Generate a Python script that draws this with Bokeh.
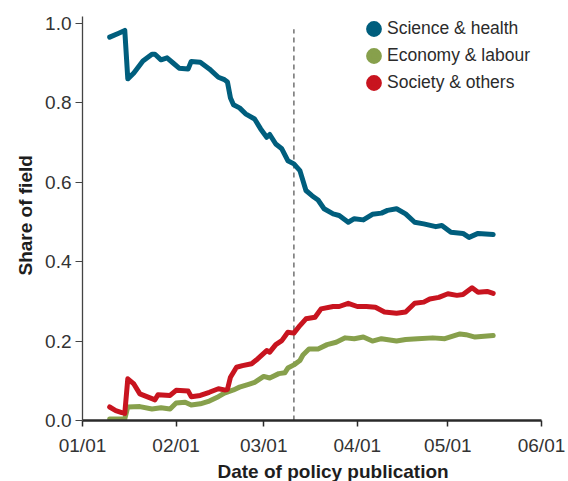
from bokeh.plotting import figure
from bokeh.models import (ColumnDataSource, Range1d, FixedTicker, DatetimeTickFormatter,
                          PrintfTickFormatter, Legend, LegendItem, Title)
from bokeh.embed import file_html
from bokeh.resources import INLINE
import pandas as pd

# ---------------- data ----------------
science_dates = ["2020-01-10", "2020-01-13", "2020-01-15", "2020-01-16", "2020-01-18", "2020-01-21",
                 "2020-01-24", "2020-01-25", "2020-01-27", "2020-01-29", "2020-01-31", "2020-02-02",
                 "2020-02-05", "2020-02-06", "2020-02-09", "2020-02-12", "2020-02-15", "2020-02-17",
                 "2020-02-18", "2020-02-19", "2020-02-20", "2020-02-22", "2020-02-24", "2020-02-27",
                 "2020-02-29", "2020-03-02", "2020-03-03", "2020-03-05", "2020-03-07", "2020-03-09",
                 "2020-03-11", "2020-03-13", "2020-03-15", "2020-03-17", "2020-03-19", "2020-03-21",
                 "2020-03-24", "2020-03-26", "2020-03-29", "2020-03-31", "2020-04-03", "2020-04-06",
                 "2020-04-09", "2020-04-11", "2020-04-14", "2020-04-17", "2020-04-20", "2020-04-23",
                 "2020-04-27", "2020-04-29", "2020-05-02", "2020-05-06", "2020-05-08", "2020-05-11",
                 "2020-05-16"]
science_share = [0.965, 0.975, 0.982, 0.860, 0.875, 0.905,
                 0.922, 0.922, 0.908, 0.913, 0.900, 0.887,
                 0.885, 0.904, 0.902, 0.885, 0.864, 0.858,
                 0.852, 0.812, 0.795, 0.787, 0.772, 0.759,
                 0.734, 0.713, 0.720, 0.696, 0.684, 0.654,
                 0.646, 0.629, 0.579, 0.566, 0.555, 0.533,
                 0.520, 0.516, 0.499, 0.508, 0.505, 0.519,
                 0.522, 0.529, 0.533, 0.520, 0.499, 0.495,
                 0.488, 0.491, 0.474, 0.471, 0.461, 0.471,
                 0.468]

economy_dates = ["2020-01-10", "2020-01-15", "2020-01-16", "2020-01-20", "2020-01-24", "2020-01-27",
                 "2020-01-30", "2020-02-01", "2020-02-04", "2020-02-06", "2020-02-09", "2020-02-12",
                 "2020-02-15", "2020-02-17", "2020-02-20", "2020-02-22", "2020-02-25", "2020-02-27",
                 "2020-03-01", "2020-03-03", "2020-03-06", "2020-03-08", "2020-03-09", "2020-03-11",
                 "2020-03-13", "2020-03-14", "2020-03-16", "2020-03-19", "2020-03-22", "2020-03-25",
                 "2020-03-28", "2020-03-31", "2020-04-03", "2020-04-06", "2020-04-09", "2020-04-14",
                 "2020-04-17", "2020-04-21", "2020-04-26", "2020-04-30", "2020-05-05", "2020-05-07",
                 "2020-05-10", "2020-05-16"]
economy_share = [0.004, 0.004, 0.034, 0.035, 0.029, 0.032,
                 0.029, 0.044, 0.046, 0.039, 0.042, 0.049,
                 0.060, 0.069, 0.077, 0.084, 0.091, 0.096,
                 0.111, 0.107, 0.118, 0.120, 0.132, 0.140,
                 0.151, 0.165, 0.180, 0.180, 0.191, 0.197,
                 0.208, 0.206, 0.210, 0.200, 0.206, 0.200,
                 0.204, 0.206, 0.208, 0.206, 0.218, 0.216,
                 0.210, 0.214]

society_dates = ["2020-01-10", "2020-01-12", "2020-01-14", "2020-01-15", "2020-01-16", "2020-01-18",
                 "2020-01-20", "2020-01-24", "2020-01-25", "2020-01-26", "2020-01-30", "2020-02-01",
                 "2020-02-05", "2020-02-06", "2020-02-09", "2020-02-12", "2020-02-15", "2020-02-17",
                 "2020-02-18", "2020-02-19", "2020-02-21", "2020-02-23", "2020-02-26", "2020-02-28",
                 "2020-03-02", "2020-03-03", "2020-03-05", "2020-03-07", "2020-03-09", "2020-03-11",
                 "2020-03-13", "2020-03-15", "2020-03-18", "2020-03-20", "2020-03-24", "2020-03-26",
                 "2020-03-29", "2020-04-01", "2020-04-04", "2020-04-07", "2020-04-10", "2020-04-14",
                 "2020-04-17", "2020-04-20", "2020-04-23", "2020-04-25", "2020-04-28", "2020-05-01",
                 "2020-05-04", "2020-05-06", "2020-05-09", "2020-05-11", "2020-05-14", "2020-05-16"]
society_share = [0.034, 0.025, 0.020, 0.018, 0.105, 0.092,
                 0.067, 0.055, 0.052, 0.065, 0.063, 0.076,
                 0.074, 0.060, 0.063, 0.071, 0.080, 0.077,
                 0.078, 0.109, 0.134, 0.138, 0.143, 0.155,
                 0.176, 0.172, 0.191, 0.201, 0.222, 0.220,
                 0.239, 0.256, 0.260, 0.281, 0.287, 0.287,
                 0.295, 0.287, 0.287, 0.285, 0.273, 0.270,
                 0.273, 0.295, 0.298, 0.306, 0.310, 0.319,
                 0.315, 0.317, 0.334, 0.323, 0.325, 0.320]

series_names = ["Science & health", "Economy & labour", "Society & others"]
series_colors = ["#005e7d", "#87a04c", "#c8141f"]

x_tick_dates = ["2020-01-01", "2020-02-01", "2020-03-01", "2020-04-01", "2020-05-01", "2020-06-01"]
y_ticks = [0.0, 0.2, 0.4, 0.6, 0.8, 1.0]
y_top = 1.017
marker_date = "2020-03-11"      # dashed reference line
marker_span = [0.0, 0.985]

x_axis_title = "Date of policy publication"
y_axis_title = "Share of field"

# ---------------- figure ----------------
TICK_FONT = "'Liberation Sans', Arial, sans-serif"
BOLD_FONT = "'Liberation Sans', Arial, sans-serif"

x_ticks_dt = pd.to_datetime(x_tick_dates)
p = figure(width=568, height=481, x_axis_type="datetime",
           x_range=Range1d(x_ticks_dt[0], x_ticks_dt[-1]),
           y_range=Range1d(y_ticks[0], y_top),
           output_backend="svg", toolbar_location=None,
           min_border_left=82, min_border_right=27, min_border_top=16, min_border_bottom=61)
p.outline_line_color = None
p.grid.visible = False
p.background_fill_color = "white"
p.border_fill_color = "white"

# dashed marker line
p.line(x=pd.to_datetime([marker_date, marker_date]), y=marker_span,
       line_color="#7a7a7a", line_width=1.6, line_dash="5 4")

all_dates = [science_dates, economy_dates, society_dates]
all_vals = [science_share, economy_share, society_share]
dummies = []
for name, dts, vals, col in zip(series_names, all_dates, all_vals, series_colors):
    src = ColumnDataSource(dict(date=pd.to_datetime(dts), share=vals))
    p.line("date", "share", source=src, line_color=col, line_width=5,
           line_join="round", line_cap="round")
    # legend-only marker (no visible data point)
    dummies.append(p.scatter(x=[float("nan")], y=[float("nan")], marker="circle",
                             fill_color=col, line_color=col, line_width=5))

legend = Legend(items=[LegendItem(label=n, renderers=[d]) for n, d in zip(series_names, dummies)],
                location=(278, 324.5), orientation="vertical",
                glyph_width=27, glyph_height=27, spacing=0, label_standoff=0,
                padding=0, margin=0, border_line_color=None, background_fill_alpha=0,
                label_text_font=TICK_FONT, label_text_font_size="17.5px",
                label_text_color="#2b2b2b")
p.add_layout(legend, "center")

# axes
xa = p.xaxis[0]
xa.ticker = FixedTicker(ticks=[t.timestamp() * 1000 for t in x_ticks_dt])
xa.formatter = DatetimeTickFormatter(days="%m/%d", months="%m/%d", years="%m/%d")
xa.axis_line_color = "#2a2a2a"
xa.axis_line_width = 2.5
xa.major_tick_line_color = "#2a2a2a"
xa.major_tick_line_width = 1.5
xa.major_tick_out = 6
xa.major_tick_in = 0
xa.minor_tick_line_color = None
xa.major_label_text_font = TICK_FONT
xa.major_label_text_font_size = "19px"
xa.major_label_text_color = "#333333"
xa.major_label_standoff = 8

ya = p.yaxis[0]
ya.ticker = FixedTicker(ticks=y_ticks)
ya.formatter = PrintfTickFormatter(format="%.1f")
ya.axis_line_color = "#444444"
ya.axis_line_width = 1.3
ya.major_tick_line_color = "#444444"
ya.major_tick_line_width = 1.2
ya.major_tick_out = 7
ya.major_tick_in = 0
ya.minor_tick_line_color = None
ya.major_label_text_font = TICK_FONT
ya.major_label_text_font_size = "19px"
ya.major_label_text_color = "#333333"
ya.major_label_standoff = 4

p.add_layout(Title(text=x_axis_title, align="left", offset=135,
                   text_font=BOLD_FONT, text_font_style="bold", text_font_size="19px",
                   text_color="#1e1e1e", standoff=0), "below")
p.add_layout(Title(text=y_axis_title, align="left", offset=145,
                   text_font=BOLD_FONT, text_font_style="bold", text_font_size="19px",
                   text_color="#1e1e1e", standoff=13), "left")

open("out.html", "w").write(file_html(p, INLINE))
